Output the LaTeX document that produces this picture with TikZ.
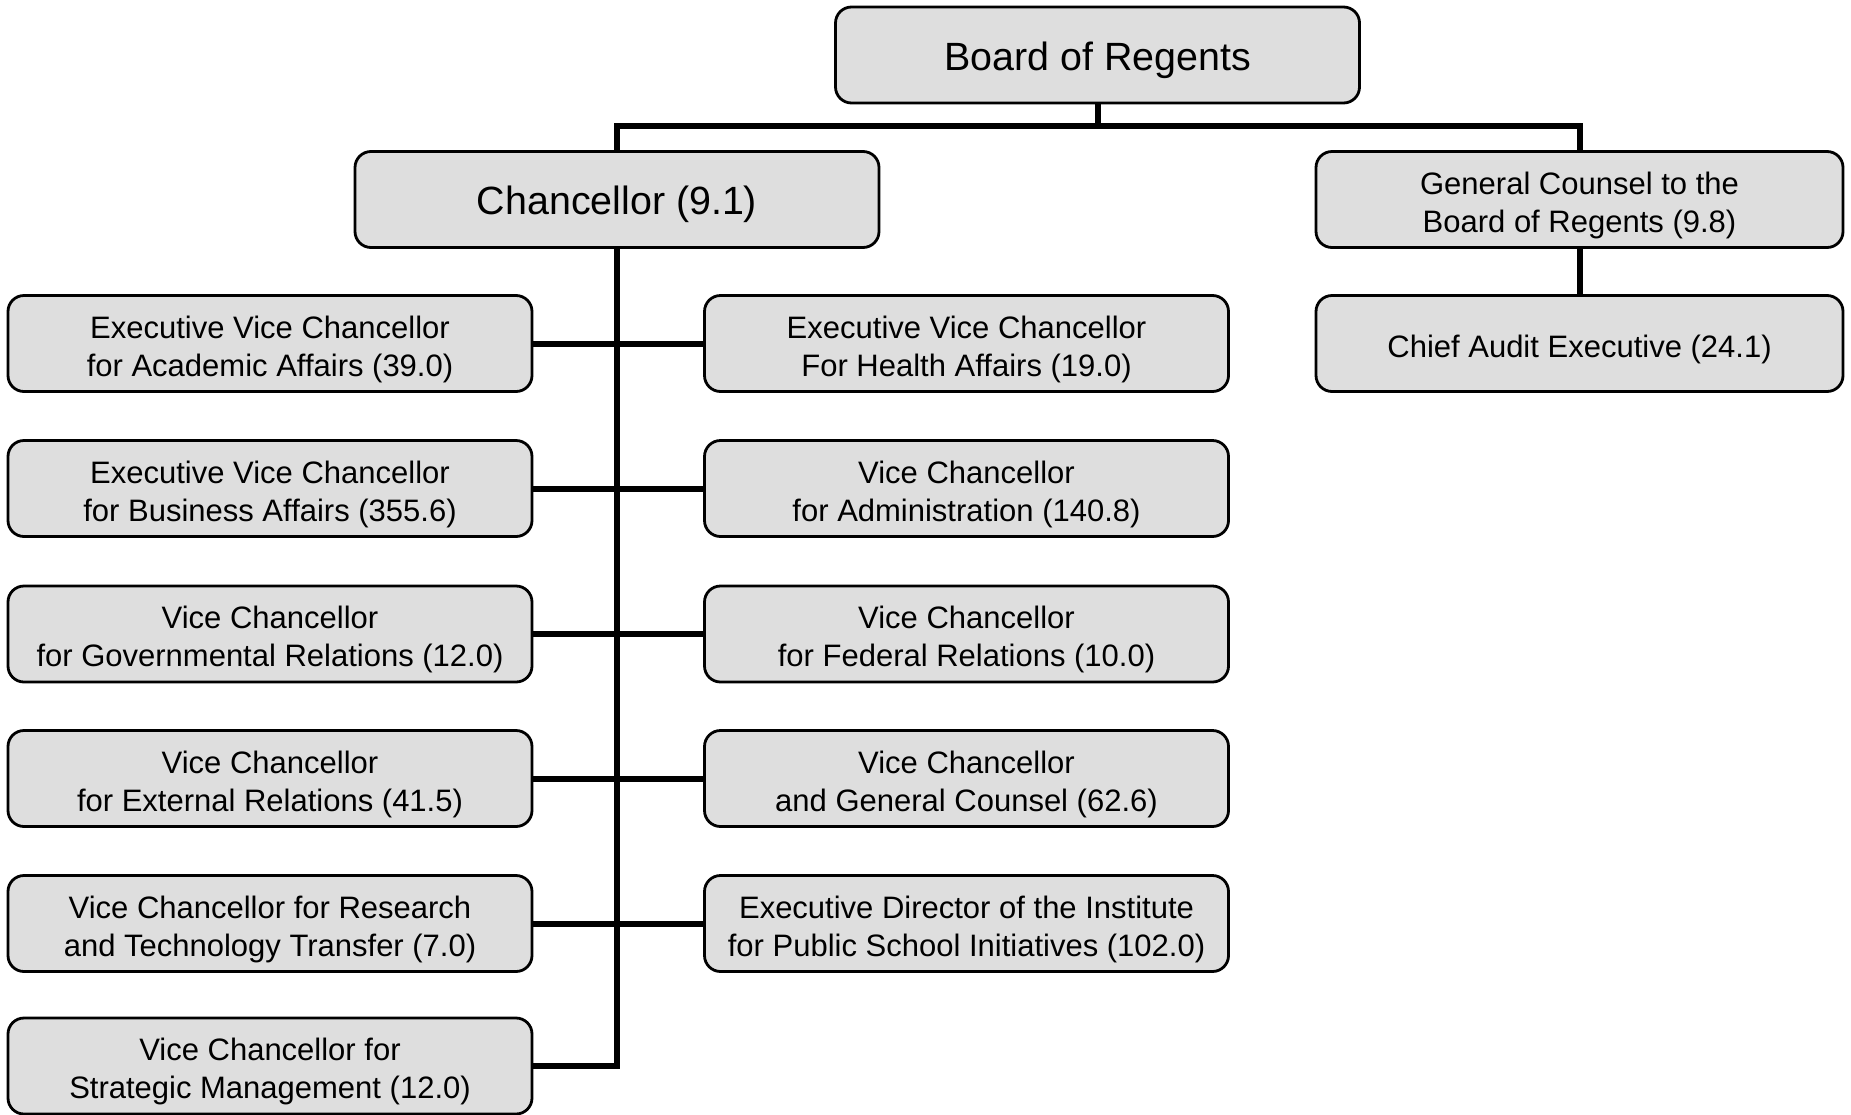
\documentclass[tikz,border=0pt]{standalone}
\usepackage{fontspec}
\setmainfont{Liberation Sans}
\definecolor{boxfill}{gray}{0.87}
\newcommand\toppad{\rule{0pt}{1.09em}}
\newcommand\toppadbig{\rule{0pt}{0.98em}}
\tikzset{
  orgbox/.style={draw, line width=1.4pt, rounded corners=8pt, fill=boxfill,
    minimum width=262pt, minimum height=48pt, inner sep=0pt, align=center,
    font=\fontsize{15.5}{18.9}\selectfont},
  bigbox/.style={orgbox, font=\fontsize{19.7}{24}\selectfont},
  conn/.style={line width=3pt}
}
\begin{document}
\begin{tikzpicture}[x=0.5pt,y=-0.5pt]
\useasboundingbox (0,0) rectangle (1851,1114);
\fill[white] (0,0) rectangle (1851,1114);
% top level
\node[bigbox] (board) at (1097.5,55) {\toppadbig Board of Regents};
\node[bigbox] (chan) at (617,199.5) {\toppadbig Chancellor (9.1)};
\node[orgbox, minimum width=263.5pt] (gc) at (1579.5,199.5) {\toppad General Counsel to the\\Board of Regents (9.8)};
\node[orgbox, minimum width=263.5pt] (ca) at (1579.5,343.5) {\toppad Chief Audit Executive (24.1)};
% left column
\node[orgbox] (l1) at (270,343.5) {\toppad Executive Vice Chancellor\\for Academic Affairs (39.0)};
\node[orgbox] (l2) at (270,488.5) {\toppad Executive Vice Chancellor\\for Business Affairs (355.6)};
\node[orgbox] (l3) at (270,634) {\toppad Vice Chancellor\\for Governmental Relations (12.0)};
\node[orgbox] (l4) at (270,778.5) {\toppad Vice Chancellor\\for External Relations (41.5)};
\node[orgbox] (l5) at (270,923.5) {\toppad Vice Chancellor for Research\\and Technology Transfer (7.0)};
\node[orgbox] (l6) at (270,1066) {\toppad Vice Chancellor for\\Strategic Management (12.0)};
% right column
\node[orgbox] (r1) at (966.5,343.5) {\toppad Executive Vice Chancellor\\For Health Affairs (19.0)};
\node[orgbox] (r2) at (966.5,488.5) {\toppad Vice Chancellor\\for Administration (140.8)};
\node[orgbox] (r3) at (966.5,634) {\toppad Vice Chancellor\\for Federal Relations (10.0)};
\node[orgbox] (r4) at (966.5,778.5) {\toppad Vice Chancellor\\and General Counsel (62.6)};
\node[orgbox] (r5) at (966.5,923.5) {\toppad Executive Director of the Institute\\for Public School Initiatives (102.0)};
% connectors
\coordinate (bus) at (0,126);
\draw[conn] (board.south) -- (board.south |- bus);
\draw[conn] (chan.north) -- (chan.north |- bus) -| (gc.north);
\draw[conn] (gc.south) -- (ca.north);
\draw[conn] (chan.south) -- (chan.south |- l6.east) -- (l6.east);
\draw[conn] (l1.east) -- (r1.west);
\draw[conn] (l2.east) -- (r2.west);
\draw[conn] (l3.east) -- (r3.west);
\draw[conn] (l4.east) -- (r4.west);
\draw[conn] (l5.east) -- (r5.west);
\end{tikzpicture}
\end{document}
